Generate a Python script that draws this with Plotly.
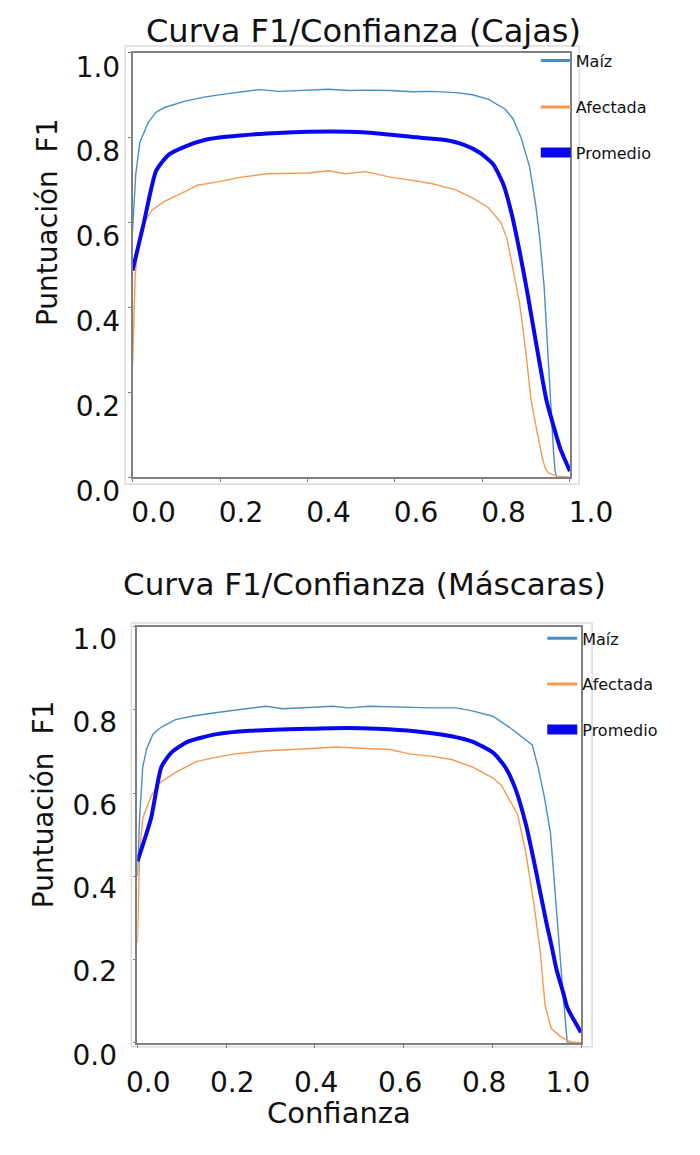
import plotly.graph_objects as go

W, H = 700, 1155

def px(x):
    return x / W

def py(y):
    return 1 - y / H

# ---------------- data ----------------
series_names = ["Maíz", "Afectada", "Promedio"]
tick_vals = [0.0, 0.2, 0.4, 0.6, 0.8, 1.0]
tick_text = ["0.0", "0.2", "0.4", "0.6", "0.8", "1.0"]

titles = ["Curva F1/Confianza (Cajas)", "Curva F1/Confianza (Máscaras)"]
y_title = "Puntuación  F1"
x_title = "Confianza"

# Cajas (boxes)
cajas_maiz_x = [0.0, 0.0075, 0.017, 0.036, 0.054, 0.073, 0.12, 0.167, 0.214, 0.25, 0.289,
                0.336, 0.40, 0.448, 0.495, 0.54, 0.589, 0.64, 0.683, 0.739, 0.777, 0.814,
                0.852, 0.87, 0.889, 0.908, 0.922, 0.931, 0.941, 0.947, 0.955, 0.962, 0.966,
                0.97, 1.0]
cajas_maiz_f1 = [0.58, 0.715, 0.79, 0.836, 0.86, 0.871, 0.886, 0.896, 0.903, 0.907, 0.913,
                 0.909, 0.912, 0.914, 0.911, 0.912, 0.911, 0.908, 0.909, 0.906, 0.901, 0.89,
                 0.867, 0.844, 0.798, 0.73, 0.64, 0.563, 0.449, 0.335, 0.18, 0.068, 0.015,
                 0.0, 0.0]

cajas_afect_x = [0.0, 0.006, 0.012, 0.026, 0.045, 0.073, 0.12, 0.148, 0.195, 0.242, 0.308,
                 0.40, 0.448, 0.486, 0.533, 0.589, 0.636, 0.683, 0.739, 0.777, 0.814, 0.842,
                 0.856, 0.87, 0.885, 0.899, 0.911, 0.925, 0.936, 0.943, 0.95, 0.97, 1.0]
cajas_afect_f1 = [0.26, 0.47, 0.55, 0.60, 0.63, 0.65, 0.673, 0.688, 0.696, 0.706, 0.715,
                  0.717, 0.722, 0.715, 0.72, 0.707, 0.70, 0.692, 0.677, 0.658, 0.635, 0.60,
                  0.563, 0.487, 0.41, 0.297, 0.183, 0.107, 0.05, 0.023, 0.011, 0.003, 0.0]

cajas_prom_x = [0.0, 0.026, 0.054, 0.083, 0.12, 0.167, 0.214, 0.308, 0.40, 0.495, 0.561,
                0.636, 0.711, 0.758, 0.795, 0.824, 0.847, 0.866, 0.885, 0.903, 0.922, 0.946,
                0.96, 0.978, 1.0]
cajas_prom_f1 = [0.487, 0.60, 0.722, 0.76, 0.779, 0.795, 0.802, 0.81, 0.814, 0.814, 0.81,
                 0.802, 0.795, 0.783, 0.764, 0.738, 0.692, 0.624, 0.532, 0.433, 0.32, 0.183,
                 0.13, 0.068, 0.015]

# Mascaras (masks)
masc_maiz_x = [0.0, 0.005, 0.012, 0.021, 0.035, 0.054, 0.086, 0.123, 0.179, 0.253, 0.29,
               0.328, 0.44, 0.476, 0.523, 0.662, 0.718, 0.755, 0.801, 0.838, 0.866, 0.89,
               0.903, 0.917, 0.931, 0.941, 0.95, 0.959, 0.969, 1.0]
masc_maiz_f1 = [0.40, 0.54, 0.663, 0.707, 0.742, 0.759, 0.777, 0.785, 0.794, 0.803, 0.809,
                0.803, 0.809, 0.805, 0.809, 0.805, 0.805, 0.798, 0.785, 0.759, 0.737, 0.716,
                0.663, 0.593, 0.506, 0.366, 0.235, 0.124, 0.0, 0.0]

masc_afect_x = [0.0, 0.005, 0.012, 0.031, 0.049, 0.086, 0.133, 0.17, 0.216, 0.29, 0.383,
                0.448, 0.523, 0.569, 0.616, 0.662, 0.708, 0.755, 0.801, 0.82, 0.838, 0.857,
                0.876, 0.894, 0.908, 0.919, 0.933, 0.954, 0.969, 0.978, 1.0]
masc_afect_f1 = [0.24, 0.454, 0.54, 0.593, 0.624, 0.65, 0.676, 0.685, 0.694, 0.702, 0.707,
                 0.711, 0.707, 0.705, 0.694, 0.689, 0.681, 0.663, 0.637, 0.62, 0.585, 0.55,
                 0.454, 0.332, 0.22, 0.09, 0.034, 0.015, 0.006, 0.002, 0.0]

masc_prom_x = [0.0, 0.031, 0.054, 0.077, 0.114, 0.179, 0.253, 0.383, 0.476, 0.541, 0.625,
               0.708, 0.755, 0.801, 0.829, 0.852, 0.876, 0.899, 0.922, 0.933, 0.945, 0.96,
               0.969, 1.0]
masc_prom_f1 = [0.436, 0.541, 0.663, 0.698, 0.724, 0.742, 0.75, 0.755, 0.757, 0.755, 0.749,
                0.737, 0.724, 0.698, 0.663, 0.611, 0.524, 0.41, 0.288, 0.236, 0.175, 0.12,
                0.085, 0.025]

# ---------------- style ----------------
C_MAIZ = "#4a8fc3"
C_AFECT = "#f59a52"
C_PROM = "#0808ee"
AX_COLOR = "#808080"
TICK_FONT = dict(family="DejaVu Sans", size=28, color="#111111")
TITLE_FONT = "DejaVu Sans"

fig = go.Figure()

panels = [
    dict(xa="x", ya="y", leg_xa="x",
         data=[(cajas_maiz_x, cajas_maiz_f1), (cajas_afect_x, cajas_afect_f1),
               (cajas_prom_x, cajas_prom_f1)], legends=["legend", "legend2", "legend3"]),
    dict(xa="x2", ya="y2", leg_xa="x3",
         data=[(masc_maiz_x, masc_maiz_f1), (masc_afect_x, masc_afect_f1),
               (masc_prom_x, masc_prom_f1)], legends=["legend4", "legend5", "legend6"]),
]
colors = [C_MAIZ, C_AFECT, C_PROM]
widths = [1.4, 1.4, 4]
shapes_ = ["linear", "linear", "spline"]
leg_widths = [3, 3, 10]

for p in panels:
    for i, (xs, ys) in enumerate(p["data"]):
        fig.add_trace(go.Scatter(x=xs, y=ys, mode="lines", name=series_names[i],
                                 line=dict(color=colors[i], width=widths[i],
                                           shape=shapes_[i], smoothing=0.6),
                                 showlegend=False, xaxis=p["xa"], yaxis=p["ya"]))
    for i in range(3):
        fig.add_trace(go.Scatter(x=[None], y=[None], mode="lines", name=series_names[i],
                                 line=dict(color=colors[i], width=leg_widths[i]),
                                 showlegend=True, legend=p["legends"][i],
                                 xaxis=p["leg_xa"], yaxis=p["ya"]))

common_axis = dict(range=[0, 1], showgrid=False, zeroline=False, showline=True,
                   linecolor=AX_COLOR, linewidth=1.5, mirror=True, ticks="outside",
                   ticklen=3, tickcolor=AX_COLOR, tickvals=tick_vals, ticktext=tick_text,
                   tickfont=TICK_FONT, fixedrange=True)

layout = dict(
    width=W, height=H, margin=dict(l=0, r=0, t=0, b=0),
    paper_bgcolor="white", plot_bgcolor="white",
    xaxis=dict(common_axis, domain=[px(123), px(597)], anchor="y",
               ticklabelshift=21, ticklabelstandoff=6),
    yaxis=dict(common_axis, domain=[py(480), py(42)], anchor="x",
               ticklabelshift=14, ticklabelstandoff=2),
    xaxis2=dict(common_axis, domain=[px(128.3), px(609)], anchor="y2", showticklabels=False),
    xaxis3=dict(range=[-0.0257, 1.0307], overlaying="x2", anchor="y2", side="bottom",
                showgrid=False, zeroline=False, showline=False, ticks="",
                tickvals=tick_vals, ticktext=tick_text, tickfont=TICK_FONT,
                ticklabelstandoff=20, fixedrange=True),
    yaxis2=dict(common_axis, domain=[py(1063), py(634)], anchor="x2",
                ticklabelshift=12, ticklabelstandoff=10),
    showlegend=True,
)

leg_font = dict(family="DejaVu Sans", size=16, color="#111111")
leg_pos = [(560, 50), (560, 98), (560, 145), (567, 646), (567, 693), (567, 740)]
for k, (lx, ly) in enumerate(leg_pos):
    key = "legend" if k == 0 else f"legend{k + 1}"
    layout[key] = dict(x=px(lx), y=py(ly), xanchor="left", yanchor="middle",
                       bgcolor="rgba(0,0,0,0)", borderwidth=0, font=leg_font,
                       itemwidth=30, tracegroupgap=0)

fig.update_layout(**layout)

# outer light frames around each panel
fig.add_shape(type="rect", xref="paper", yref="paper", x0=px(115), x1=px(607),
              y0=py(487), y1=py(35), line=dict(color="#dcdcdc", width=1.5), layer="below")
fig.add_shape(type="rect", xref="paper", yref="paper", x0=px(121.7), x1=px(621),
              y0=py(1067), y1=py(630), line=dict(color="#dcdcdc", width=1.5), layer="below")

# titles
fig.add_annotation(text=titles[0], xref="paper", yref="paper", x=px(373), y=py(20),
                   showarrow=False, xanchor="center", yanchor="middle",
                   font=dict(family=TITLE_FONT, size=32, color="#111111"))
fig.add_annotation(text=titles[1], xref="paper", yref="paper", x=px(374), y=py(590),
                   showarrow=False, xanchor="center", yanchor="middle",
                   font=dict(family=TITLE_FONT, size=31, color="#111111"))
fig.add_annotation(text=y_title, xref="paper", yref="paper", x=px(31), y=py(217),
                   showarrow=False, textangle=-90, xanchor="center", yanchor="middle",
                   font=dict(family=TITLE_FONT, size=28, color="#111111"))
fig.add_annotation(text=y_title, xref="paper", yref="paper", x=px(26), y=py(817),
                   showarrow=False, textangle=-90, xanchor="center", yanchor="middle",
                   font=dict(family=TITLE_FONT, size=28, color="#111111"))
fig.add_annotation(text=x_title, xref="paper", yref="paper", x=px(347), y=py(1135),
                   showarrow=False, xanchor="center", yanchor="middle",
                   font=dict(family=TITLE_FONT, size=29, color="#111111"))

fig.write_html("out.html")
